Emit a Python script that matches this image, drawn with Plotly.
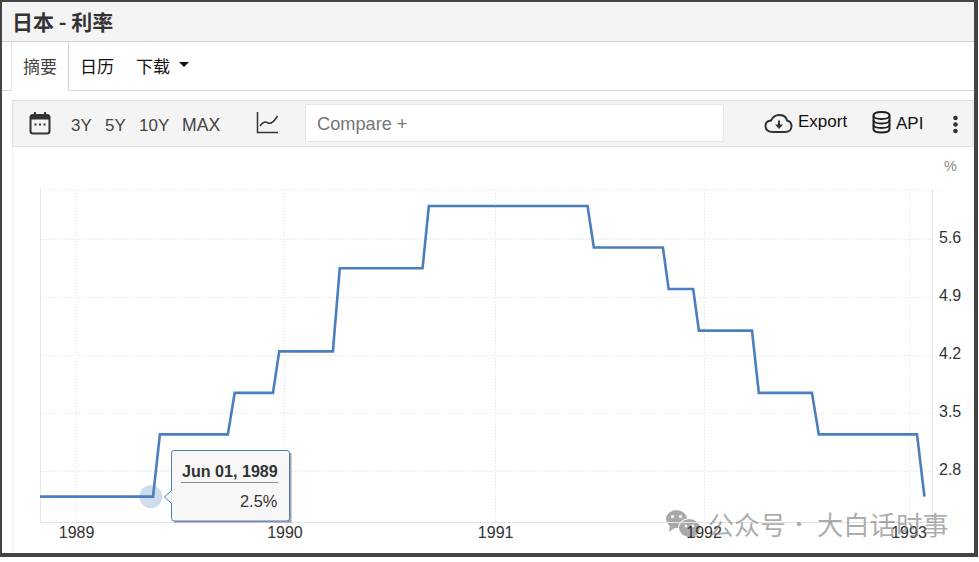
import plotly.graph_objects as go

W, H = 979, 562

# ---- data ----
dates = ["1988-10-28", "1989-05-15", "1989-05-27", "1989-09-23", "1989-10-05",
         "1989-12-11", "1989-12-22", "1990-03-26", "1990-04-07", "1990-08-30",
         "1990-09-10", "1991-06-15", "1991-06-26", "1991-10-25", "1991-11-04",
         "1991-12-17", "1991-12-27", "1992-03-29", "1992-04-10", "1992-07-12",
         "1992-07-24", "1993-01-12", "1993-01-25"]
rates = [2.5, 2.5, 3.25, 3.25, 3.75, 3.75, 4.25, 4.25, 5.25, 5.25, 6.0, 6.0,
         5.5, 5.5, 5.0, 5.0, 4.5, 4.5, 3.75, 3.75, 3.25, 3.25, 2.5]
hover_date = ["1989-05-11"]
hover_rate = [2.5]
year_ticks = ["1989-01-01", "1990-01-01", "1991-01-05", "1992-01-05", "1992-12-29"]
year_labels = ["1989", "1990", "1991", "1992", "1993"]
rate_ticks = [2.8, 3.5, 4.2, 4.9, 5.6]
rate_labels = ["2.8", "3.5", "4.2", "4.9", "5.6"]
tooltip_title = "Jun 01, 1989"
tooltip_value = "2.5%"

SANS = "Liberation Sans, Arial, sans-serif"
CJK = "Noto Sans CJK SC, sans-serif"
BLUE = "#4a7ebc"


def X(px):
    return px / W


def Y(py):
    return 1 - py / H


def path_px(d):
    """Path given as tokens with pixel coordinates -> paper coordinates."""
    out, is_x = [], True
    for tok in d.split():
        if tok in ("M", "L", "Z", "Q", "C"):
            out.append(tok)
            is_x = True
        else:
            out.append(str(X(float(tok))) if is_x else str(Y(float(tok))))
            is_x = not is_x
    res = ""
    for tok in out:
        if tok in ("M", "L", "Z", "Q", "C"):
            res += " " + tok + " "
        else:
            res += tok + " "
    return res.strip()


shapes = []


def rect(x0, y0, x1, y1, fill=None, line=None, lw=1, layer="above", opacity=1):
    shapes.append(dict(type="rect", xref="paper", yref="paper", x0=X(x0), x1=X(x1),
                       y0=Y(y0), y1=Y(y1), fillcolor=fill or "rgba(0,0,0,0)",
                       line=dict(color=line or "rgba(0,0,0,0)", width=lw if line else 0),
                       layer=layer, opacity=opacity))


def seg(x0, y0, x1, y1, color, lw=1, dash="solid", layer="above"):
    shapes.append(dict(type="line", xref="paper", yref="paper", x0=X(x0), x1=X(x1),
                       y0=Y(y0), y1=Y(y1), line=dict(color=color, width=lw, dash=dash),
                       layer=layer))


def path(d, fill=None, line=None, lw=1, layer="above", opacity=1):
    shapes.append(dict(type="path", xref="paper", yref="paper", path=path_px(d),
                       fillcolor=fill or "rgba(0,0,0,0)",
                       line=dict(color=line or "rgba(0,0,0,0)", width=lw if line else 0),
                       layer=layer, opacity=opacity))


def circle(cx, cy, rx, ry, fill=None, line=None, lw=1, opacity=1, layer="above"):
    shapes.append(dict(type="circle", xref="paper", yref="paper", x0=X(cx - rx), x1=X(cx + rx),
                       y0=Y(cy + ry), y1=Y(cy - ry), fillcolor=fill or "rgba(0,0,0,0)",
                       line=dict(color=line or "rgba(0,0,0,0)", width=lw if line else 0),
                       layer=layer, opacity=opacity))


annotations = []


def text(x, y, s, size, color="#333", family=SANS, anchor="left", bold=False, opacity=1):
    annotations.append(dict(xref="paper", yref="paper", x=X(x), y=Y(y),
                            text=f"<b>{s}</b>" if bold else s, showarrow=False,
                            xanchor=anchor, yanchor="middle", borderpad=0, borderwidth=0,
                            opacity=opacity,
                            font=dict(size=size, color=color, family=family)))


# watermark icon (under the tick labels)
WM = "#a9a9a9"
circle(676.5, 519, 10.5, 9, fill=WM, layer="below")
path("M 670 525 L 669 532 L 676 527 Z", fill=WM, layer="below")
circle(689.5, 528, 11.5, 10, fill="#ffffff", layer="below")
circle(689.5, 528, 10.5, 9, fill=WM, layer="below")
path("M 695 534 L 696 538 L 690 535 Z", fill=WM, layer="below")
circle(672.5, 516.5, 1.6, 1.6, fill="#fff", layer="below")
circle(680.5, 516.5, 1.6, 1.6, fill="#fff", layer="below")
circle(686, 526, 1.4, 1.4, fill="#fff", layer="below")
circle(693, 526, 1.4, 1.4, fill="#fff", layer="below")

# header and tabs
rect(2, 2, 974, 41, fill="#f4f4f4")
seg(2, 41.5, 974, 41.5, "#cfcfcf")
seg(2, 90.5, 11.5, 90.5, "#d4d4d4")
seg(68.5, 90.5, 974, 90.5, "#d4d4d4")
seg(11.5, 42, 11.5, 90.5, "#e2e2e2")
seg(68.5, 42, 68.5, 90.5, "#d4d4d4")
seg(12.5, 146, 12.5, 553, "#f2f2f2", layer="below")

# toolbar
rect(12.5, 100.5, 973, 146.5, fill="#f4f4f4", line="#dedede")
rect(305.5, 104.5, 723.5, 141.5, fill="#ffffff", line="#e6e6e0")

# calendar icon
path("M 33 115 L 47 115 Q 49.5 115 49.5 117.5 L 49.5 131 Q 49.5 133.5 47 133.5 L 33 133.5 "
     "Q 30.5 133.5 30.5 131 L 30.5 117.5 Q 30.5 115 33 115 Z", line="#333", lw=2)
rect(30.5, 115, 49.5, 119.5, fill="#333")
seg(35, 112, 35, 116, "#333", 2)
seg(45, 112, 45, 116, "#333", 2)
for cx in (35.5, 40, 44.5):
    rect(cx - 1, 123.5, cx + 1, 125.5, fill="#333")

# line chart icon
path("M 257.5 112 L 257.5 132.5 L 278 132.5", line="#333", lw=1.5)
path("M 260 126 Q 264 120 268 123 Q 272 125 277.5 116", line="#333", lw=1.5)

# cloud icon
path("M 773 132 Q 765.5 132 765.5 126 Q 765.5 121 771 120.5 Q 774 114.5 780 115 "
     "Q 786 115.5 787 120.5 Q 792 122 791.5 126.5 Q 791 132 785 132 Z", line="#333", lw=2)
path("M 778 120.5 L 780 120.5 L 780 124.5 L 783 124.5 L 779 129 L 775 124.5 L 778 124.5 Z", fill="#333")

# database icon
path("M 873.5 115.5 Q 873.5 112 881.5 112 Q 889.5 112 889.5 115.5 L 889.5 129 "
     "Q 889.5 132.5 881.5 132.5 Q 873.5 132.5 873.5 129 Z", line="#222", lw=2)
path("M 873.5 115.5 Q 873.5 119 881.5 119 Q 889.5 119 889.5 115.5", line="#222", lw=1.8)
path("M 873.5 120 Q 873.5 123.5 881.5 123.5 Q 889.5 123.5 889.5 120", line="#222", lw=1.8)
path("M 873.5 124.5 Q 873.5 128 881.5 128 Q 889.5 128 889.5 124.5", line="#222", lw=1.8)

# kebab menu
for cy in (118, 124.5, 131):
    circle(955.5, cy, 2.3, 2.3, fill="#333")

# dropdown caret
path("M 179 62 L 189 62 L 184 67 Z", fill="#111")

# chart frame details
seg(40, 190, 943, 190, "#dedede", 1, "1px,2px", layer="below")
seg(40.5, 190, 40.5, 522, "#e8e8e8", layer="below")
seg(932.5, 190, 932.5, 522, "#e8e8e8", layer="below")
seg(40, 522.5, 933, 522.5, "#e4e4e4", layer="below")

# tooltip
rect(174, 453, 291.5, 522.5, fill="rgba(90,90,90,0.55)")
path("M 174 450.5 L 287 450.5 Q 289.5 450.5 289.5 453 L 289.5 518.5 Q 289.5 521 287 521 "
     "L 174 521 Q 171.5 521 171.5 518.5 L 171.5 453 Q 171.5 450.5 174 450.5 Z",
     fill="#f7f7f7", line=BLUE)
path("M 171.5 490.5 L 164.5 497 L 171.5 503.5", fill="#f7f7f7", line=BLUE)
seg(172, 491, 172, 503, "#f7f7f7", 1.5)
seg(181, 482.5, 278, 482.5, "#8a8a8a")
text(278, 470.5, tooltip_title, 16.1, "#333", bold=True, anchor="right")
text(277, 501, tooltip_value, 16.4, "#333", anchor="right")

# page frame
rect(0, 0, 2, 557, fill="#444")
rect(0, 0, 978, 2, fill="#444")
rect(974, 0, 978, 557, fill="#444")
rect(0, 553, 978, 557, fill="#444")

# texts
text(11.5, 20.5, "日本 - 利率", 21, "#333", CJK, bold=True)
text(23, 66, "摘要", 17, "#444", CJK)
text(80, 66, "日历", 17, "#111", CJK)
text(136, 66, "下载", 17, "#111", CJK)
text(71, 125, "3Y", 17, "#444")
text(105, 125, "5Y", 17, "#444")
text(139, 125, "10Y", 17, "#444")
text(182, 125, "MAX", 17.6, "#444")
text(317, 124, "Compare +", 18.2, "#777")
text(798, 122, "Export", 17, "#111")
text(896, 124, "API", 17, "#111")
text(944, 166, "%", 14.5, "#888")
WMT = "rgba(125,125,125,0.65)"
text(708, 523, "公众号", 26, WMT, CJK)
text(799, 523, "·", 20, WMT, CJK, anchor="center")
text(817, 523, "大白话时事", 26.3, WMT, CJK)

fig = go.Figure()
fig.add_trace(go.Scatter(x=dates, y=rates, mode="lines", hoverinfo="skip",
                         line=dict(color=BLUE, width=2.6), showlegend=False))
fig.add_trace(go.Scatter(x=hover_date, y=hover_rate, mode="markers", hoverinfo="skip",
                         marker=dict(size=23, color="rgba(74,126,188,0.27)", line=dict(width=0)),
                         showlegend=False))

GRID = dict(showgrid=True, gridcolor="#dedede", griddash="1px,2px", gridwidth=1,
            zeroline=False, showline=False, fixedrange=True)
fig.update_layout(
    width=W, height=H, autosize=False,
    margin=dict(l=0, r=0, t=0, b=0, pad=0),
    paper_bgcolor="rgba(255,255,255,1)", plot_bgcolor="rgba(0,0,0,0)",
    shapes=shapes, annotations=annotations,
    xaxis=dict(domain=[X(40), X(933)], range=["1988-10-29", "1993-02-09"], type="date",
               tickmode="array", tickvals=year_ticks, ticktext=year_labels,
               tickfont=dict(size=16, color="#333", family=SANS), ticks="", ticklabelstandoff=-1,
               anchor="y", **GRID),
    yaxis=dict(domain=[Y(522), Y(190)], range=[2.195, 6.193], side="right",
               tickmode="array", tickvals=rate_ticks, ticktext=rate_labels,
               tickfont=dict(size=16, color="#333", family=SANS), ticks="", ticklabelstandoff=5,
               ticklabelshift=-2, anchor="x", **GRID),
)

fig.write_html("out.html", config=dict(displayModeBar=False),
               post_script="document.body.style.margin='0';document.body.style.overflow='hidden';")
